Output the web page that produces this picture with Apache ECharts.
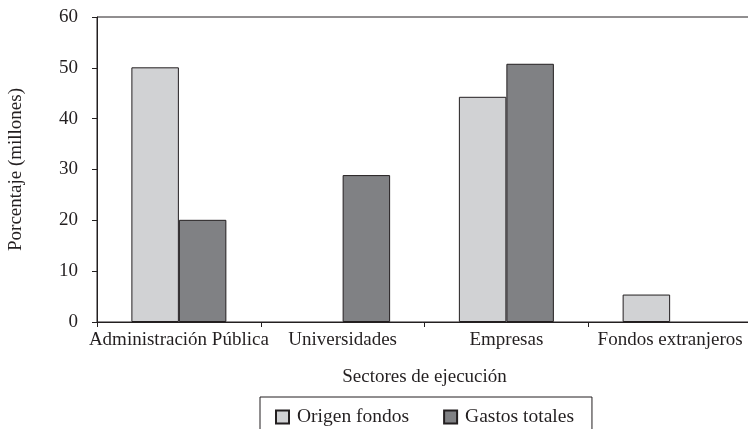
<!DOCTYPE html>
<html>
<head>
<meta charset="utf-8">
<script src="https://cdn.jsdelivr.net/npm/echarts@6/dist/echarts.min.js"></script>
<style>
  html, body { margin: 0; padding: 0; background: #fff; }
  #chart { width: 748px; height: 429px; }
</style>
</head>
<body>
<div id="chart"></div>
<script>
// datos (null = sin barra)
const categories = ['Administración Pública', 'Universidades', 'Empresas', 'Fondos extranjeros']
const origenFondos = [50.1, null, 44.3, 5.4]
const gastosTotales = [20.1, 28.9, 50.8, null]
const seriesNames = ['Origen fondos', 'Gastos totales']

const ink = '#231f20'
const font = 'Liberation Serif'

const myEchart = echarts.init(document.getElementById('chart'))

const options = {
  animation: false,
  textStyle: { fontFamily: font, color: ink },
  grid: {
    left: 97,
    right: -4,
    top: 17,
    bottom: 107,
    outerBoundsMode: 'none',
    containLabel: false,
    show: true,
    borderColor: ink,
    borderWidth: 1
  },
  legend: {
    top: 397,
    left: 260,
    orient: 'horizontal',
    data: seriesNames,
    icon: 'rect',
    itemWidth: 13,
    itemHeight: 13,
    itemGap: 34,
    padding: [10, 18, 30, 15],
    borderColor: ink,
    borderWidth: 1,
    textStyle: { fontFamily: font, fontSize: 19.5, color: ink, padding: [0, 0, 0, 3] }
  },
  xAxis: {
    type: 'category',
    data: categories,
    name: 'Sectores de ejecución',
    nameLocation: 'middle',
    nameGap: 46,
    nameTextStyle: { fontFamily: font, fontSize: 19, color: ink },
    axisLine: { lineStyle: { color: ink, width: 1 } },
    axisTick: { show: true, length: 5, lineStyle: { color: ink } },
    axisLabel: { interval: 0, margin: 9, fontFamily: font, fontSize: 19, color: ink }
  },
  yAxis: {
    type: 'value',
    min: 0,
    max: 60,
    interval: 10,
    name: 'Porcentaje (millones)',
    nameLocation: 'middle',
    nameGap: 71,
    nameTextStyle: { fontFamily: font, fontSize: 19, color: ink },
    axisLine: { show: true, lineStyle: { color: ink, width: 1 } },
    axisTick: { show: true, length: 5, lineStyle: { color: ink } },
    axisLabel: { margin: 19, fontFamily: font, fontSize: 19, color: ink },
    splitLine: { show: false }
  },
  series: [
    {
      name: seriesNames[0],
      type: 'bar',
      data: origenFondos,
      barGap: '0%',
      barCategoryGap: '42%',
      itemStyle: { color: '#d1d2d4', borderColor: ink, borderWidth: 1 }
    },
    {
      name: seriesNames[1],
      type: 'bar',
      data: gastosTotales,
      itemStyle: { color: '#808184', borderColor: ink, borderWidth: 1 }
    }
  ]
}
myEchart.setOption(options)
</script>
</body>
</html>
